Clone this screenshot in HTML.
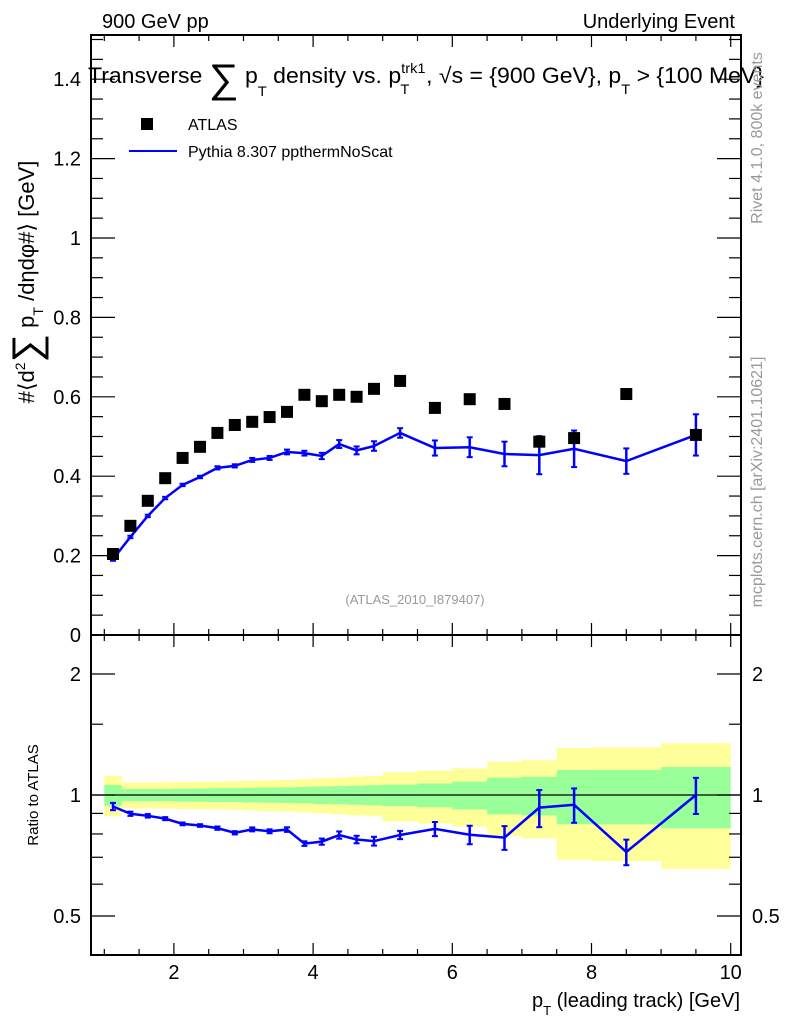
<!DOCTYPE html>
<html><head><meta charset="utf-8"><style>
body{margin:0;background:#fff}
svg{display:block;font-family:"Liberation Sans",Arial,sans-serif}
</style></head><body>
<svg id="c" width="786" height="1024" viewBox="0 0 786 1024">
<text x="102" y="28" font-size="20">900 GeV pp</text>
<text x="735" y="28" font-size="20" text-anchor="end">Underlying Event</text>
<text x="88" y="83" font-size="22" textLength="676" lengthAdjust="spacingAndGlyphs">Transverse <tspan font-size="40" dy="9">∑</tspan><tspan dy="-9"> p</tspan><tspan font-size="14" dy="13">T</tspan><tspan dy="-13"> density vs. p</tspan><tspan font-size="14" dy="-10">trk1</tspan><tspan font-size="14" dx="-24" dy="21">T</tspan><tspan dx="16" dy="-11">, √s = {900 GeV}, p</tspan><tspan font-size="14" dy="11">T</tspan><tspan dy="-11"> &gt; {100 MeV}</tspan></text>
<rect x="141" y="118" width="12" height="12" fill="#000"/>
<text x="188" y="130" font-size="16">ATLAS</text>
<line x1="129" y1="151" x2="177" y2="151" stroke="#0000ff" stroke-width="2"/>
<text x="188" y="157" font-size="16">Pythia 8.307 ppthermNoScat</text>
<text x="415" y="604" font-size="13" fill="#999" text-anchor="middle">(ATLAS_2010_I879407)</text>
<text transform="translate(34,282) rotate(-90)" font-size="22" text-anchor="middle">#⟨d<tspan font-size="14" dy="-9">2</tspan><tspan font-size="40" dy="15">∑</tspan><tspan dy="-6"> p</tspan><tspan font-size="14" dy="9">T</tspan><tspan dy="-9"> /dηdφ#⟩ [GeV]</tspan></text>
<text transform="translate(38,795) rotate(-90)" font-size="15" text-anchor="middle">Ratio to ATLAS</text>
<text transform="translate(762,138) rotate(-90)" font-size="16" fill="#999" text-anchor="middle">Rivet 4.1.0,  800k events</text>
<text transform="translate(762,482) rotate(-90)" font-size="16" fill="#999" text-anchor="middle">mcplots.cern.ch [arXiv:2401.10621]</text>
<text x="740" y="1007" font-size="20" text-anchor="end">p<tspan font-size="13" dy="8">T</tspan><tspan dy="-8"> (leading track) [GeV]</tspan></text>
<g id="g"></g>
</svg>
<script>
const binEdges=[1,1.25,1.5,1.75,2,2.25,2.5,2.75,3,3.25,3.5,3.75,4,4.25,4.5,4.75,5,5.5,6,6.5,7,7.5,8,9,10];
const atlasVals=[0.204,0.275,0.338,0.395,0.446,0.474,0.509,0.529,0.537,0.549,0.562,0.605,0.589,0.605,0.600,0.620,0.640,0.572,0.594,0.582,0.487,0.496,0.607,0.504];
const atlasStatRel=[0.06,0.035,0.035,0.035,0.037,0.038,0.04,0.04,0.042,0.043,0.045,0.047,0.05,0.052,0.055,0.058,0.062,0.068,0.08,0.105,0.11,0.154,0.155,0.174];
const atlasTotRel=[0.115,0.075,0.075,0.075,0.078,0.08,0.08,0.082,0.085,0.088,0.09,0.095,0.1,0.105,0.11,0.115,0.14,0.15,0.165,0.21,0.22,0.31,0.315,0.345];
const mcVals=[0.191,0.247,0.300,0.345,0.378,0.398,0.421,0.426,0.441,0.446,0.461,0.458,0.451,0.481,0.465,0.476,0.509,0.471,0.473,0.456,0.453,0.469,0.438,0.504];
const mcErr=[0.004,0.003,0.003,0.003,0.003,0.003,0.004,0.004,0.005,0.005,0.006,0.006,0.008,0.01,0.01,0.012,0.012,0.019,0.025,0.031,0.048,0.046,0.032,0.052];
const mainTicks=[0,0.2,0.4,0.6,0.8,1,1.2,1.4];
const ratioTicks=[0.5,1,2];
const xTicks=[2,4,6,8,10];

const L=91,R=741,T=35,M=635,B=955;
const X=v=>34.7+69.6*v;
const Y=v=>635-397*v;
const RY=r=>795-121*Math.log2(r);
const g=document.getElementById('g');
const NS='http://www.w3.org/2000/svg';
function el(t,a,name){const e=document.createElementNS(NS,t);for(const k in a)e.setAttribute(k,a[k]);


g.appendChild(e);return e;}
const ctr=i=>(binEdges[i]+binEdges[i+1])/2;
function band(rel,col,name){let up='',dn='';for(let i=0;i<rel.length;i++){const a=X(binEdges[i]),b=X(binEdges[i+1]);up+=`L${a},${RY(1+rel[i])}L${b},${RY(1+rel[i])}`;dn=`L${b},${RY(1-rel[i])}L${a},${RY(1-rel[i])}`+dn;}
el('path',{d:'M'+up.slice(1)+dn+'Z',fill:col},name);}
band(atlasTotRel,'#ffff99','ratio-total-band');
band(atlasStatRel,'#99ff99','ratio-stat-band');
el('line',{x1:L,x2:R,y1:RY(1),y2:RY(1),stroke:'#000','stroke-width':1.3},'ratio-unity-line');
el('rect',{x:L,y:T,width:R-L,height:M-T,fill:'none',stroke:'#000','stroke-width':2},'main-frame');
el('rect',{x:L,y:M,width:R-L,height:B-M,fill:'none',stroke:'#000','stroke-width':2},'ratio-frame');
for(let v=1;v<=10;v+=0.5){const x=X(v),maj=Number.isInteger(v)&&v%2==0,len=maj?12:6;
for(const [y0,d] of [[T,1],[M,-1],[M,1],[B,-1]]){el('line',{x1:x,x2:x,y1:y0,y2:y0+d*len,stroke:'#000','stroke-width':1.2},'x-tick');}}
xTicks.forEach(v=>{const t=el('text',{x:X(v),y:979,'font-size':20,'text-anchor':'middle'},'x-tick-label');t.textContent=v;});
for(let k=0;k<=30;k++){const v=k*0.05,y=Y(v);if(y<T)break;const maj=k%4==0,len=maj?24:12;
el('line',{x1:L,x2:L+len,y1:y,y2:y,stroke:'#000','stroke-width':1.2},'y-tick');
el('line',{x1:R,x2:R-len,y1:y,y2:y,stroke:'#000','stroke-width':1.2},'y-tick');}
mainTicks.forEach(v=>{const t=el('text',{x:81,y:Y(v)+7,'font-size':20,'text-anchor':'end'},'y-tick-label');t.textContent=v;});
[0.4,0.5,0.6,0.7,0.8,0.9,1,1.5,2,2.5].forEach(v=>{const y=RY(v);if(y<M||y>B)return;const maj=ratioTicks.includes(v),len=maj?24:12;
el('line',{x1:L,x2:L+len,y1:y,y2:y,stroke:'#000','stroke-width':1.2},'ratio-tick');
el('line',{x1:R,x2:R-len,y1:y,y2:y,stroke:'#000','stroke-width':1.2},'ratio-tick');});
ratioTicks.forEach(v=>{for(const [x,a] of [[81,'end'],[752,'start']]){const t=el('text',{x:x,y:RY(v)+7,'font-size':20,'text-anchor':a},'ratio-tick-label');t.textContent=v;}});
mcVals.forEach((v,i)=>{const x=X(ctr(i));el('line',{x1:x,x2:x,y1:Y(v-mcErr[i]),y2:Y(v+mcErr[i]),stroke:'#0000ff','stroke-width':2.5},'mc-error-bar');
[v-mcErr[i],v+mcErr[i]].forEach(e=>el('line',{x1:x-3,x2:x+3,y1:Y(e),y2:Y(e),stroke:'#0000ff','stroke-width':2},'mc-error-cap'));});
el('polyline',{points:mcVals.map((v,i)=>X(ctr(i))+','+Y(v)).join(' '),fill:'none',stroke:'#0000ff','stroke-width':2.5},'mc-line');
atlasVals.forEach((v,i)=>el('rect',{x:X(ctr(i))-6,y:Y(v)-6,width:12,height:12,fill:'#000'},'atlas-point'));
const rat=mcVals.map((v,i)=>v/atlasVals[i]);
rat.forEach((r,i)=>{const x=X(ctr(i)),e=mcErr[i]/atlasVals[i];el('line',{x1:x,x2:x,y1:RY(r-e),y2:RY(r+e),stroke:'#0000ff','stroke-width':2.5},'ratio-error-bar');
[r-e,r+e].forEach(q=>el('line',{x1:x-3,x2:x+3,y1:RY(q),y2:RY(q),stroke:'#0000ff','stroke-width':2},'ratio-error-cap'));});
el('polyline',{points:rat.map((r,i)=>X(ctr(i))+','+RY(r)).join(' '),fill:'none',stroke:'#0000ff','stroke-width':2.5},'ratio-line');
</script>
</body></html>
